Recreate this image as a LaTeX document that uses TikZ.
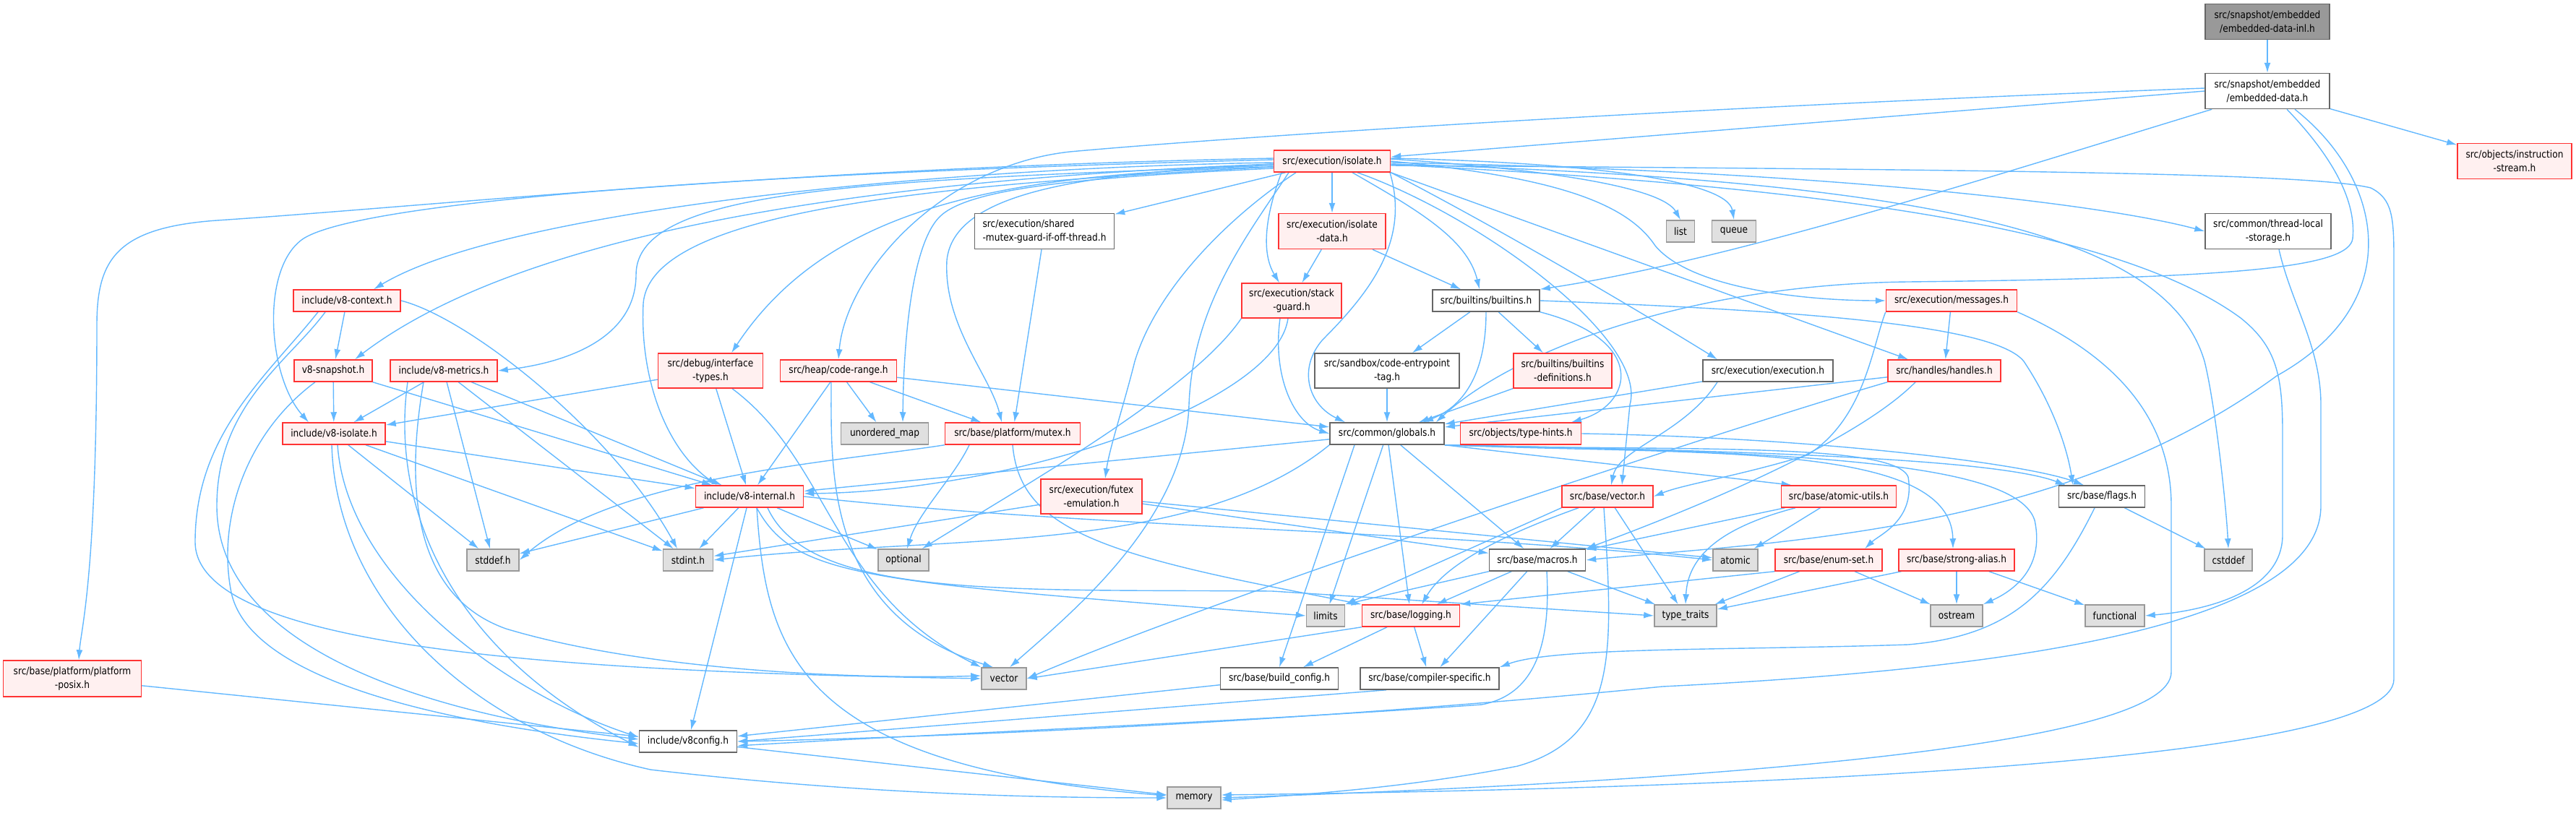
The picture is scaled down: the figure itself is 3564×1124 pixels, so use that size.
\documentclass[tikz,border=0pt]{standalone}
\usepackage{fontspec}
\setmainfont{DejaVu Sans}[FakeStretch=0.87]
\usetikzlibrary{arrows.meta}
\definecolor{eb}{RGB}{99,184,255}
\definecolor{rb}{RGB}{255,51,51}
\definecolor{rf}{RGB}{255,240,240}
\definecolor{gb}{RGB}{102,102,102}
\definecolor{sf}{RGB}{224,224,224}
\definecolor{sb}{RGB}{153,153,153}
\definecolor{rootf}{RGB}{153,153,153}
\pgfdeclarelayer{bg}
\pgfsetlayers{bg,main}
\tikzset{
 nd/.style={rectangle, inner sep=0pt, line width=1.5pt, align=center, font=\fontsize{14pt}{19pt}\selectfont},
 wb/.style={nd, draw=gb, fill=white},
 rbx/.style={nd, draw=rb, fill=rf},
 sbx/.style={nd, draw=sb, fill=sf},
 rootb/.style={nd, draw=gb, fill=rootf},
 sz/.style 2 args={minimum width=#1pt, minimum height=#2pt},
 e/.style={draw=eb, line width=1.4pt, -{Latex[length=14pt,width=9pt]}},
}
\begin{document}
\begin{tikzpicture}[x=1pt,y=-1pt]
\useasboundingbox (0,0) rectangle (3564,1124);
% nodes
\node[rootb, sz={172}{49}] (inl) at (3137,30) {src/snapshot/embedded\\/embedded-data-inl.h};
\node[wb, sz={172}{49}] (embdata) at (3137,126) {src/snapshot/embedded\\/embedded-data.h};
\node[rbx, sz={161}{30}] (isolate) at (1843,223) {src/execution/isolate.h};
\node[rbx, sz={158}{49}] (instr) at (3479,223) {src/objects/instruction\\-stream.h};
\node[wb, sz={193}{49}, align=left] (sharedmutex) at (1445,320) {src/execution/shared\\-mutex-guard-if-off-thread.h};
\node[rbx, sz={148}{49}] (isodata) at (1843,320) {src/execution/isolate\\-data.h};
\node[sbx, sz={39}{30}] (list) at (2325,320) {list};
\node[sbx, sz={61}{30}] (queue) at (2399,320) {queue};
\node[wb, sz={174}{49}] (tls) at (3138,320) {src/common/thread-local\\-storage.h};
\node[rbx, sz={148}{30}] (v8context) at (480,416) {include/v8-context.h};
\node[rbx, sz={138}{48}] (stackguard) at (1787,416) {src/execution/stack\\-guard.h};
\node[wb, sz={148}{30}] (builtins) at (2056,416) {src/builtins/builtins.h};
\node[rbx, sz={181}{30}] (messages) at (2700,416) {src/execution/messages.h};
\node[rbx, sz={108}{30}] (v8snapshot) at (461,513) {v8-snapshot.h};
\node[rbx, sz={148}{30}] (v8metrics) at (614,513) {include/v8-metrics.h};
\node[rbx, sz={145}{48}] (interface) at (983,513) {src/debug/interface\\-types.h};
\node[rbx, sz={161}{30}] (coderange) at (1160,513) {src/heap/code-range.h};
\node[wb, sz={200}{48}] (codeentry) at (1919,513) {src/sandbox/code-entrypoint\\-tag.h};
\node[rbx, sz={136}{48}] (builtinsdef) at (2162,513) {src/builtins/builtins\\-definitions.h};
\node[wb, sz={180}{30}] (execution) at (2446,513) {src/execution/execution.h};
\node[rbx, sz={156}{30}] (handles) at (2690,513) {src/handles/handles.h};
\node[rbx, sz={142}{30}] (v8isolate) at (462,600) {include/v8-isolate.h};
\node[sbx, sz={121}{30}] (unorderedmap) at (1224,600) {unordered\_map};
\node[rbx, sz={187}{30}] (mutex) at (1401,600) {src/base/platform/mutex.h};
\node[wb, sz={158}{30}] (globals) at (1919,600) {src/common/globals.h};
\node[rbx, sz={167}{30}] (typehints) at (2104,600) {src/objects/type-hints.h};
\node[rbx, sz={149}{30}] (v8internal) at (1037,687) {include/v8-internal.h};
\node[rbx, sz={140}{48}] (futex) at (1510,687) {src/execution/futex\\-emulation.h};
\node[rbx, sz={126}{30}] (vectorh) at (2224,687) {src/base/vector.h};
\node[rbx, sz={159}{30}] (atomicutils) at (2544,687) {src/base/atomic-utils.h};
\node[wb, sz={119}{30}] (flags) at (2908,687) {src/base/flags.h};
\node[sbx, sz={72}{30}] (stddef) at (682,775) {stddef.h};
\node[sbx, sz={69}{30}] (stdint) at (952,775) {stdint.h};
\node[sbx, sz={70}{30}] (optional) at (1250,775) {optional};
\node[wb, sz={133}{30}] (macros) at (2127,775) {src/base/macros.h};
\node[sbx, sz={62}{30}] (atomic) at (2401,775) {atomic};
\node[rbx, sz={148}{30}] (enumset) at (2530,775) {src/base/enum-set.h};
\node[rbx, sz={160}{30}] (strongalias) at (2707,775) {src/base/strong-alias.h};
\node[sbx, sz={66}{30}] (cstddef) at (3083,775) {cstddef};
\node[sbx, sz={53}{30}] (limits) at (1834,852) {limits};
\node[rbx, sz={135}{30}] (logging) at (1952,852) {src/base/logging.h};
\node[sbx, sz={86}{30}] (typetraits) at (2332,852) {type\_traits};
\node[sbx, sz={72}{30}] (ostream) at (2707,852) {ostream};
\node[sbx, sz={82}{30}] (functional) at (2926,852) {functional};
\node[rbx, sz={191}{50}] (posix) at (100,939) {src/base/platform/platform\\-posix.h};
\node[sbx, sz={62}{30}] (vectorstd) at (1389,939) {vector};
\node[wb, sz={163}{30}] (buildconfig) at (1770,939) {src/base/build\_config.h};
\node[wb, sz={192}{30}] (compspec) at (1978,939) {src/base/compiler-specific.h};
\node[wb, sz={135}{30}] (v8config) at (952,1026) {include/v8config.h};
\node[sbx, sz={74}{30}] (memory) at (1652,1104) {memory};

\begin{pgfonlayer}{bg}
% root and embedded-data
\draw[e] (inl) -- (embdata);
\draw[e] (embdata.west) -- ([yshift=6pt]isolate.east);
\draw[e] ([yshift=4pt]embdata.west) .. controls (2300,150) and (1700,190) .. (1480,210) .. controls (1300,230) and (1170,380) .. (coderange.north);
\draw[e] ([xshift=10pt]embdata.south west) .. controls (2800,230) and (2400,360) .. (builtins.north east);
\draw[e] (embdata) -- (instr);
\draw[e] ([xshift=27pt]embdata.south) .. controls (3230,220) and (3260,280) .. (3255,330) .. controls (3250,370) and (3100,385) .. (2640,390) .. controls (2350,393) and (2100,480) .. ([xshift=-12pt]globals.north east);
\draw[e] ([xshift=38pt]embdata.south) .. controls (3300,250) and (3330,420) .. (3150,520) .. controls (2850,740) and (2450,750) .. (macros.east);
% isolate.h
\draw[e] ([yshift=-2pt]isolate.west) .. controls (1300,232) and (700,290) .. ([xshift=37pt]v8context.north);
\draw[e] ([yshift=-4pt]isolate.west) .. controls (1300,245) and (750,300) .. ([xshift=30pt]v8snapshot.north);
\draw[e] ([yshift=-6pt]isolate.west) .. controls (1200,250) and (880,260) .. (880,380) .. controls (880,460) and (800,500) .. (v8metrics.east);
\draw[e] ([yshift=2pt]isolate.west) .. controls (1000,240) and (500,280) .. (420,330) .. controls (360,370) and (370,520) .. ([xshift=-35pt]v8isolate.north);
\draw[e] ([yshift=4pt]isolate.west) .. controls (1100,232) and (600,285) .. (300,305) .. controls (160,315) and (134,360) .. (134,450) .. controls (134,800) and (112,870) .. ([xshift=9pt]posix.north);
\draw[e] ([yshift=-8pt]isolate.west) .. controls (1400,240) and (1150,280) .. ([xshift=29pt]interface.north);
\draw[e] ([yshift=-8pt]isolate.west) .. controls (1300,255) and (900,290) .. (890,420) .. controls (885,520) and (920,620) .. ([xshift=-45pt]v8internal.north);
\draw[e] (isolate) -- (sharedmutex);
\draw[e] ([yshift=-4pt]isolate.west) .. controls (1500,240) and (1320,265) .. (1310,360) .. controls (1305,450) and (1370,520) .. ([xshift=-15pt]mutex.north);
\draw[e] ([yshift=-10pt]isolate.west) .. controls (1500,245) and (1340,260) .. (1300,300) .. controls (1260,340) and (1250,480) .. ([xshift=25pt]unorderedmap.north);
\draw[e] ([xshift=-60pt]isolate.south) .. controls (1730,320) and (1650,420) .. (1645,560) .. controls (1640,720) and (1480,850) .. ([xshift=8pt]vectorstd.north);
\draw[e] ([xshift=-50pt]isolate.south) .. controls (1700,300) and (1600,400) .. (1570,500) .. controls (1555,560) and (1535,620) .. ([xshift=19pt]futex.north);
\draw[e] ([xshift=-70pt]isolate.south) .. controls (1750,300) and (1745,350) .. ([xshift=-17pt]stackguard.north);
\draw[e] (isolate) -- (isodata);
\draw[e] ([xshift=28pt]isolate.south) .. controls (1960,290) and (2030,330) .. ([xshift=-9pt]builtins.north);
\draw[e] ([xshift=80pt]isolate.south) .. controls (1950,330) and (1900,400) .. (1830,470) .. controls (1795,510) and (1810,560) .. ([xshift=-58pt]globals.north);
\draw[e] (isolate.south east) .. controls (2100,330) and (2300,450) .. ([xshift=-70pt]execution.north);
\draw[e] (isolate.south east) -- ([xshift=-50pt]handles.north);
\draw[e] (isolate.east) .. controls (2150,245) and (2250,280) .. (2290,340) .. controls (2340,400) and (2500,416) .. (messages.west);
\draw[e] ([yshift=3pt]isolate.east) .. controls (2150,235) and (2300,260) .. (list.north);
\draw[e] ([yshift=4pt]isolate.east) .. controls (2200,225) and (2390,250) .. (queue.north);
\draw[e] ([yshift=-2pt]isolate.east) .. controls (2500,235) and (2900,280) .. (tls.west);
\draw[e] ([xshift=35pt]isolate.south) .. controls (2050,300) and (2280,470) .. (2255,560) -- ([xshift=20pt]vectorh.north);
\draw[e] ([yshift=-4pt]isolate.east) .. controls (2700,250) and (3000,330) .. (3050,500) .. controls (3065,560) and (3080,700) .. (cstddef.north);
\draw[e] ([yshift=-5pt]isolate.east) .. controls (2600,260) and (2950,330) .. (3100,440) .. controls (3150,480) and (3158,520) .. (3158,600) -- (3158,740) .. controls (3158,820) and (3050,845) .. (functional.east);
\draw[e] ([yshift=-6pt]isolate.east) .. controls (2800,235) and (3200,240) .. (3280,260) .. controls (3310,275) and (3312,300) .. (3312,360) -- (3312,940) .. controls (3312,1050) and (2500,1090) .. ([yshift=4pt]memory.east);
% messages, tls
\draw[e] (messages.south east) .. controls (2900,480) and (3004,560) .. (3004,700) -- (3004,930) .. controls (3004,1030) and (2400,1080) .. (memory.east);
\draw[e] (messages) -- (handles);
\draw[e] (messages.south west) .. controls (2590,480) and (2580,580) .. (2500,630) .. controls (2400,660) and (2330,670) .. (vectorh.east);
\draw[e] ([xshift=15pt]tls.south) .. controls (3170,420) and (3211,480) .. (3211,560) -- (3211,700) .. controls (3211,880) and (2700,930) .. (2300,950) .. controls (1800,1000) and (1300,1020) .. (v8config.east);
% v8-context, v8-snapshot, v8-metrics, v8-isolate
\draw[e] (v8context) -- (v8snapshot);
\draw[e] ([xshift=-30pt]v8context.south) .. controls (400,500) and (300,560) .. (300,700) .. controls (300,900) and (600,990) .. ([yshift=3pt]v8config.west);
\draw[e] ([xshift=-40pt]v8context.south) .. controls (370,520) and (270,600) .. (270,750) .. controls (270,900) and (800,930) .. (vectorstd.west);
\draw[e] (v8context.east) .. controls (650,440) and (850,600) .. ([xshift=-15pt]stdint.north);
\draw[e] (v8snapshot) -- (v8isolate);
\draw[e] (v8snapshot.south east) -- (v8internal);
\draw[e] ([xshift=-25pt]v8snapshot.south) .. controls (340,600) and (300,720) .. (320,820) .. controls (350,960) and (700,1010) .. ([yshift=-3pt]v8config.west);
\draw[e] (v8metrics) -- (v8isolate);
\draw[e] (v8metrics) -- (stddef);
\draw[e] (v8metrics) -- (stdint);
\draw[e] (v8metrics) -- (v8internal);
\draw[e] ([xshift=-28pt]v8metrics.south) .. controls (565,650) and (560,820) .. (700,870) .. controls (900,930) and (1200,940) .. ([yshift=4pt]vectorstd.west);
\draw[e] ([xshift=-50pt]v8metrics.south) .. controls (540,700) and (620,900) .. ([yshift=-8pt]v8config.west);
\draw[e] (v8isolate) -- (v8internal);
\draw[e] (v8isolate) -- (stddef);
\draw[e] (v8isolate) -- (stdint);
\draw[e] ([xshift=5pt]v8isolate.south) .. controls (480,800) and (700,960) .. ([yshift=6pt]v8config.west);
\draw[e] ([xshift=-3pt]v8isolate.south) .. controls (465,830) and (650,1010) .. (900,1065) .. controls (1200,1100) and (1450,1104) .. (memory.west);
% interface, code-range, shared mutex, isolate-data, stack-guard
\draw[e] (interface) -- (v8isolate);
\draw[e] (interface) -- (v8internal);
\draw[e] ([xshift=30pt]interface.south) .. controls (1150,640) and (1150,820) .. (vectorstd.north west);
\draw[e] (coderange) -- (v8internal);
\draw[e] (coderange) -- (unorderedmap);
\draw[e] (coderange) -- (mutex);
\draw[e] (coderange) -- (globals);
\draw[e] ([xshift=-10pt]coderange.south) .. controls (1150,650) and (1140,850) .. ([xshift=-15pt]vectorstd.north);
\draw[e] (sharedmutex) -- (mutex);
\draw[e] (isodata) -- (stackguard);
\draw[e] (isodata) -- (builtins);
\draw[e] ([xshift=-16pt]stackguard.south) .. controls (1760,520) and (1790,585) .. (globals.west);
\draw[e] ([xshift=-5pt]stackguard.south) .. controls (1765,560) and (1400,680) .. ([yshift=4pt]v8internal.east);
\draw[e] (stackguard.south west) .. controls (1650,540) and (1420,670) .. ([xshift=-10pt]optional.north east);
% builtins
\draw[e] (builtins) -- (codeentry);
\draw[e] (builtins) -- (builtinsdef);
\draw[e] (builtins.south) .. controls (2056,510) and (2030,560) .. ([xshift=50pt]globals.north);
\draw[e] (builtins.south east) .. controls (2280,470) and (2260,560) .. ([xshift=70pt]typehints.north);
\draw[e] (builtins.east) .. controls (2500,430) and (2760,450) .. (2800,500) .. controls (2840,560) and (2860,620) .. ([xshift=-40pt]flags.north);
\draw[e] (codeentry) -- (globals);
\draw[e] (builtinsdef) -- (globals);
\draw[e] (execution) -- (globals);
\draw[e] ([xshift=-70pt]execution.south) .. controls (2330,600) and (2240,620) .. ([xshift=5pt]vectorh.north);
% handles
\draw[e] (handles) -- (globals);
\draw[e] (handles.south west) .. controls (2400,590) and (1700,820) .. (vectorstd.east);
\draw[e] ([xshift=-40pt]handles.south) .. controls (2560,620) and (2300,720) .. (macros.north east);
% globals
\draw[e] (globals) -- (v8internal);
\draw[e] (globals.south west) .. controls (1650,770) and (1300,740) .. (stdint.east);
\draw[e] (globals) -- (limits);
\draw[e] (globals) -- (logging);
\draw[e] (globals) -- (macros);
\draw[e] ([xshift=-45pt]globals.south) -- (buildconfig.north);
\draw[e] (globals.south east) -- ([xshift=15pt]atomicutils.north west);
\draw[e] (globals.south east) .. controls (2300,625) and (2620,610) .. (2640,660) .. controls (2650,720) and (2600,740) .. ([xshift=50pt]enumset.north);
\draw[e] (globals.south east) .. controls (2350,630) and (2700,610) .. ([xshift=-5pt]strongalias.north);
\draw[e] (globals.south east) .. controls (2300,622) and (2750,630) .. ([xshift=10pt]flags.north west);
\draw[e] (globals.south east) .. controls (2500,625) and (2790,640) .. (2815,720) .. controls (2830,790) and (2780,820) .. (ostream.north east);
\draw[e] (typehints.east) .. controls (2500,605) and (2800,640) .. ([xshift=-25pt]flags.north);
% vector.h, atomic-utils, enum-set, strong-alias, flags
\draw[e] (vectorh.south west) -- (limits.north east);
\draw[e] ([xshift=-40pt]vectorh.south) .. controls (2080,740) and (2000,780) .. ([xshift=15pt]logging.north);
\draw[e] (vectorh) -- (macros);
\draw[e] (vectorh) -- (typetraits);
\draw[e] ([xshift=-5pt]vectorh.south) .. controls (2232,900) and (2240,1020) .. (2100,1060) .. controls (1950,1090) and (1800,1100) .. ([yshift=-3pt]memory.east);
\draw[e] (atomicutils) -- (atomic);
\draw[e] (atomicutils) -- (macros);
\draw[e] ([xshift=-60pt]atomicutils.south) .. controls (2380,730) and (2335,770) .. (typetraits.north);
\draw[e] (enumset.south west) -- (logging.north east);
\draw[e] (enumset) -- (typetraits);
\draw[e] (enumset) -- (ostream);
\draw[e] (strongalias) -- (typetraits);
\draw[e] (strongalias) -- (ostream);
\draw[e] (strongalias) -- (functional);
\draw[e] (flags) -- (cstddef);
\draw[e] ([xshift=-10pt]flags.south) .. controls (2840,820) and (2780,880) .. (2640,892) .. controls (2400,900) and (2150,895) .. (compspec.north east);
% macros, logging
\draw[e] (macros.south west) -- (limits.north east);
\draw[e] (macros) -- (logging);
\draw[e] (macros) -- (compspec);
\draw[e] ([xshift=13pt]macros.south) .. controls (2145,880) and (2130,960) .. (2050,975) .. controls (1700,1000) and (1300,1015) .. ([yshift=-6pt]v8config.east);
\draw[e] (macros) -- (typetraits);
\draw[e] (logging.south west) -- (vectorstd.east);
\draw[e] (logging) -- (buildconfig);
\draw[e] (logging) -- (compspec);
\draw[e] (buildconfig) -- (v8config);
\draw[e] ([xshift=-60pt]compspec.south) -- (v8config.east);
\draw[e] (posix) -- (v8config);
\draw[e] (v8config) -- (memory);
% mutex, futex
\draw[e] ([xshift=-60pt]mutex.south) .. controls (1320,660) and (1270,710) .. ([xshift=5pt]optional.north);
\draw[e] (mutex.south) .. controls (1410,720) and (1500,760) .. (1760,812) -- (logging.north west);
\draw[e] (mutex.south west) .. controls (1150,640) and (850,660) .. (stddef.east);
\draw[e] (futex) -- (stdint);
\draw[e] (futex) -- (macros);
\draw[e] (futex) -- (atomic);
% v8-internal
\draw[e] (v8internal) -- (stddef);
\draw[e] (v8internal) -- (stdint);
\draw[e] (v8internal) -- (optional);
\draw[e] (v8internal) -- (v8config);
\draw[e] ([xshift=10pt]v8internal.south) .. controls (1060,900) and (1100,1060) .. ([yshift=3pt]memory.west);
\draw[e] (v8internal.east) .. controls (1500,730) and (2000,735) .. (atomic.west);
\draw[e] ([xshift=10pt]v8internal.south) .. controls (1100,800) and (1200,805) .. (limits.west);
\draw[e] ([xshift=25pt]v8internal.south) .. controls (1120,830) and (1400,815) .. (1760,818) -- (typetraits.west);
\end{pgfonlayer}
\end{tikzpicture}
\end{document}
